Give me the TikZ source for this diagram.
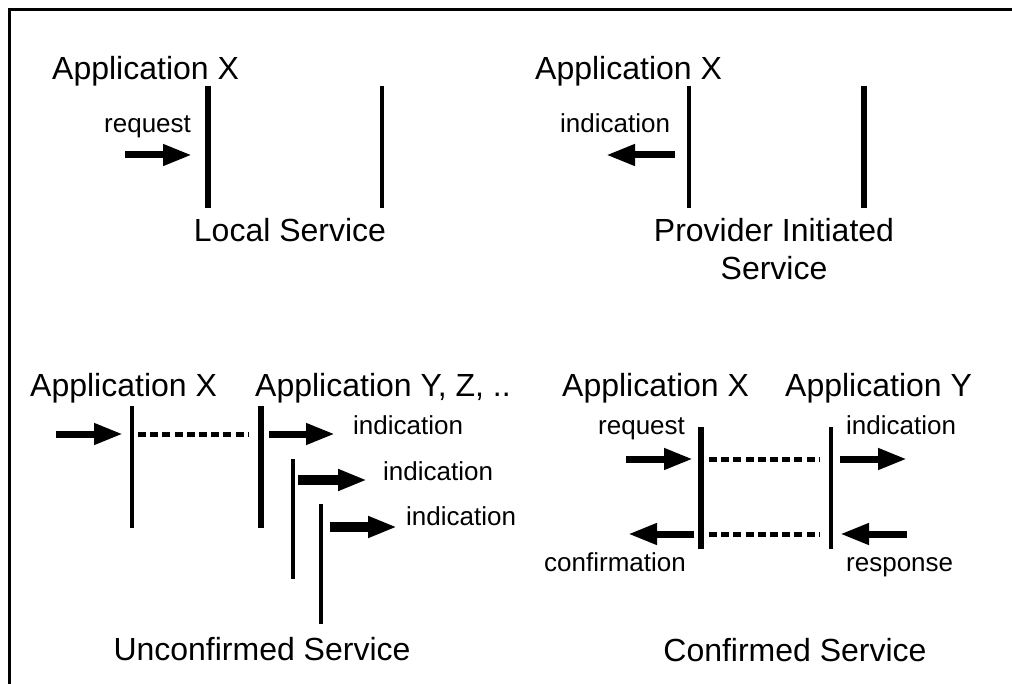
\documentclass[tikz,border=0pt]{standalone}
\usepackage{fontspec}
\setmainfont{Liberation Sans}
\usetikzlibrary{arrows.meta}

\tikzset{
  big/.style={font=\fontsize{32}{38}\selectfont, inner sep=0pt},
  small/.style={font=\fontsize{26}{30}\selectfont, inner sep=0pt},
  thickline/.style={line width=6pt},
  thinline/.style={line width=3.2pt},
  msg/.style={line width=7pt, -{Triangle[length=29pt,width=20pt]}},
  msgwide/.style={msg, line width=9.5pt},
  link/.style={line width=5pt, dash pattern=on 8pt off 4.2pt},
}

\begin{document}
\begin{tikzpicture}[x=1pt, y=-1pt]

\useasboundingbox (0,0) rectangle (1012,684);
\draw[line width=3pt] (1012,10) -- (9,10) -- (9,684);

% local service
\node[big, anchor=base west] (appXa) at (52,80) {Application X};
\node[small, anchor=base west] (reqA) at (104,133) {request};
\node[big, anchor=base] (localA) at (290,242) {Local Service};
\draw[thickline] (208,86) -- (208,208);
\draw[thinline] (382,86) -- (382,208);
\coordinate (reqAs) at (125,155);
\coordinate (reqAe) at (192,155);
\draw[msg] (reqAs) -- (reqAe);

% provider initiated service
\node[big, anchor=base west] (appXb) at (535,80) {Application X};
\node[small, anchor=base west] (indB) at (560,133) {indication};
\node[big, anchor=base] (provB) at (774,242) {Provider Initiated};
\node[big, anchor=base] (svcB) at (774,280) {Service};
\draw[thinline] (689,86) -- (689,208);
\draw[thickline] (864,86) -- (864,208);
\coordinate (indBs) at (675,155);
\coordinate (indBe) at (606,155);
\draw[msg] (indBs) -- (indBe);

% unconfirmed service
\node[big, anchor=base west] (appXc) at (30,397) {Application X};
\node[big, anchor=base west] (appYZ) at (255,397) {Application Y, Z, ..};
\node[small, anchor=base west] (indC1) at (353,435) {indication};
\node[small, anchor=base west] (indC2) at (383,480) {indication};
\node[small, anchor=base west] (indC3) at (406,525) {indication};
\node[big, anchor=base] (unconfC) at (262,660) {Unconfirmed Service};
\draw[thinline] (132,406) -- (132,528);
\draw[thickline] (261,406) -- (261,528);
\draw[thinline] (293,459) -- (293,579);
\draw[thinline] (321,504) -- (321,624);
\coordinate (reqCs) at (56,434);
\coordinate (reqCe) at (123,434);
\coordinate (linkCs) at (138,434);
\coordinate (linkCe) at (248,434);
\draw[msg] (reqCs) -- (reqCe);
\draw[link] (linkCs) -- (linkCe);
\coordinate (indC1s) at (269,434);
\coordinate (indC1e) at (335,434);
\coordinate (indC2s) at (298,480);
\coordinate (indC2e) at (367,480);
\coordinate (indC3s) at (330,527);
\coordinate (indC3e) at (397,527);
\draw[msg] (indC1s) -- (indC1e);
\draw[msgwide] (indC2s) -- (indC2e);
\draw[msgwide] (indC3s) -- (indC3e);

% confirmed service
\node[big, anchor=base west] (appXd) at (562,397) {Application X};
\node[big, anchor=base west] (appYd) at (785,397) {Application Y};
\node[small, anchor=base west] (reqD) at (598,434) {request};
\node[small, anchor=base west] (indD) at (846,434) {indication};
\node[small, anchor=base west] (confD) at (544,571) {confirmation};
\node[small, anchor=base west] (respD) at (846,571) {response};
\node[big, anchor=base] (confSvcD) at (795,661) {Confirmed Service};
\draw[thickline] (701,427) -- (701,549);
\draw[thinline] (831,427) -- (831,549);
\coordinate (linkD1s) at (709,459);
\coordinate (linkD1e) at (819,459);
\coordinate (linkD2s) at (709,534);
\coordinate (linkD2e) at (819,534);
\draw[link] (linkD1s) -- (linkD1e);
\draw[link] (linkD2s) -- (linkD2e);
\coordinate (reqDs) at (626,459);
\coordinate (reqDe) at (693,459);
\coordinate (indDs) at (840,459);
\coordinate (indDe) at (907,459);
\coordinate (confDs) at (694,534);
\coordinate (confDe) at (628,534);
\coordinate (respDs) at (907,534);
\coordinate (respDe) at (840,534);
\draw[msg] (reqDs) -- (reqDe);
\draw[msg] (indDs) -- (indDe);
\draw[msg] (confDs) -- (confDe);
\draw[msg] (respDs) -- (respDe);

\end{tikzpicture}
\end{document}
